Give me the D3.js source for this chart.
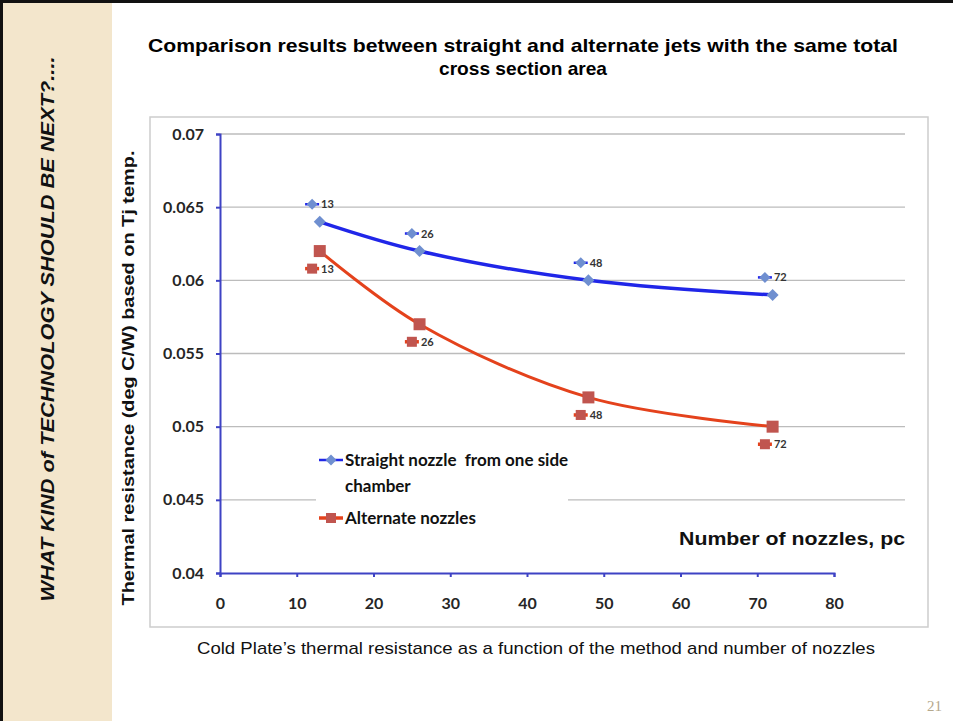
<!DOCTYPE html>
<meta charset="utf-8">
<style>
body { margin: 0; background: #fff; }
svg { display: block; }
.tick text { font-family: Lato, "Open Sans", sans-serif; font-weight: 700; font-size: 16px; fill: #262626; }
</style>
<body>
<script src="https://d3js.org/d3.v7.min.js"></script>
<script>

// Data
var nozzles = [13, 26, 48, 72];
var straightVals = [0.064, 0.062, 0.060, 0.059];
var alternateVals = [0.062, 0.057, 0.052, 0.050];

// the small labelled keys sitting next to each curve
var straightKeyX = [12, 25, 47, 71];
var straightKeyY = [0.0652, 0.0632, 0.0612, 0.0602];
var alternateKeyX = [12, 25, 47, 71];
var alternateKeyY = [0.0608, 0.0558, 0.0508, 0.0488];
var keyLabels = ["13", "26", "48", "72"];

var xTicks = [0, 10, 20, 30, 40, 50, 60, 70, 80];
var yTicks = [0.04, 0.045, 0.05, 0.055, 0.06, 0.065, 0.07];
var yTickLabels = ["0.04", "0.045", "0.05", "0.055", "0.06", "0.065", "0.07"];

var W = 953, H = 721;
var blue = "#2026e8", blueMark = "#6f8fd0";
var red = "#e4421c", redMark = "#c0554f";
var axisColor = "#3e42c4";

var svg = d3.select("body").append("svg")
    .attr("width", W)
    .attr("height", H);

// squeeze a text element to a given width (the slide font is a condensed one)
function fit(sel, w) {
  sel.attr("textLength", w).attr("lengthAdjust", "spacingAndGlyphs");
}

// slide side strip + borders
svg.append("rect").attr("x", 0).attr("y", 0).attr("width", 112).attr("height", H)
    .attr("fill", "#f3e6cc");
svg.append("rect").attr("x", 0).attr("y", 0).attr("width", 3).attr("height", H).attr("fill", "#111");
svg.append("rect").attr("x", 0).attr("y", 0).attr("width", W).attr("height", 3).attr("fill", "#111");

svg.append("text")
    .attr("transform", "translate(54,329) rotate(-90)")
    .attr("text-anchor", "middle")
    .style("font-family", "Liberation Sans, Arial, sans-serif")
    .style("font-weight", "bold")
    .style("font-style", "italic")
    .style("font-size", "19px")
    .attr("fill", "#111")
    .text("WHAT KIND of TECHNOLOGY SHOULD BE NEXT?....")
    .call(fit, 545);

// titles
var titleFont = "Liberation Sans, Arial, sans-serif";
svg.append("text")
    .attr("x", 523).attr("y", 52)
    .attr("text-anchor", "middle")
    .style("font-family", titleFont).style("font-weight", "bold").style("font-size", "19px")
    .text("Comparison results between straight and alternate jets with the same total")
    .call(fit, 750);
svg.append("text")
    .attr("x", 523).attr("y", 75)
    .attr("text-anchor", "middle")
    .style("font-family", titleFont).style("font-weight", "bold").style("font-size", "19px")
    .text("cross section area")
    .call(fit, 168);

// caption and page number
svg.append("text")
    .attr("x", 536).attr("y", 654)
    .attr("text-anchor", "middle")
    .style("font-family", titleFont).style("font-size", "17px")
    .attr("fill", "#111")
    .text("Cold Plate\u2019s thermal resistance as a function of the method and number of nozzles")
    .call(fit, 678);
svg.append("text")
    .attr("x", 942).attr("y", 711)
    .attr("text-anchor", "end")
    .style("font-family", "Liberation Serif, serif").style("font-size", "15px")
    .attr("fill", "#b5a88c")
    .text("21");

// chart frame
svg.append("rect")
    .attr("x", 150).attr("y", 117).attr("width", 778).attr("height", 510)
    .attr("fill", "#fff").attr("stroke", "#cdcdcd").attr("stroke-width", 1.5);

// scales
var x = d3.scaleLinear().domain([0, 80]).range([220, 834]);
var y = d3.scaleLinear().domain([0.04, 0.07]).range([573, 134]);

// gridlines
svg.append("g").selectAll("line")
    .data(yTicks.slice(1))
  .enter().append("line")
    .attr("x1", x(0)).attr("x2", 905)
    .attr("y1", function(d) { return y(d); })
    .attr("y2", function(d) { return y(d); })
    .attr("stroke", "#bcbcbc").attr("stroke-width", 1.3);

// axes
var yAxis = svg.append("g")
    .attr("transform", "translate(" + x(0) + ",0)")
    .call(d3.axisLeft(y).tickValues(yTicks).tickSize(4).tickPadding(12)
      .tickFormat(function(d, i) { return yTickLabels[i]; }));
var xAxis = svg.append("g")
    .attr("transform", "translate(0," + y(0.04) + ")")
    .call(d3.axisBottom(x).tickValues(xTicks).tickSize(4).tickPadding(21));
[xAxis, yAxis].forEach(function(a) {
  a.select(".domain").attr("stroke", axisColor).attr("stroke-width", 2);
  a.selectAll(".tick line").attr("stroke", axisColor).attr("stroke-width", 2);
});

// axis titles
svg.append("text")
    .attr("transform", "translate(134,378) rotate(-90)")
    .attr("text-anchor", "middle")
    .style("font-family", titleFont).style("font-weight", "bold").style("font-size", "17px")
    .attr("fill", "#111")
    .text("Thermal resistance (deg C/W) based on Tj temp.")
    .call(fit, 455);
svg.append("text")
    .attr("x", 905).attr("y", 545)
    .attr("text-anchor", "end")
    .style("font-family", titleFont).style("font-weight", "bold").style("font-size", "19px")
    .attr("fill", "#111")
    .text("Number of nozzles, pc")
    .call(fit, 226);

// legend (white box hides the gridline behind it)
svg.append("rect")
    .attr("x", 316).attr("y", 436).attr("width", 252).attr("height", 96)
    .attr("fill", "#fff");

function diamond(g, cx, cy, r, fill) {
  g.append("path")
    .attr("d", "M" + cx + "," + (cy - r) + "L" + (cx + r) + "," + cy + "L" + cx + "," + (cy + r) + "L" + (cx - r) + "," + cy + "Z")
    .attr("fill", fill);
}
function square(g, cx, cy, s, fill) {
  g.append("rect").attr("x", cx - s / 2).attr("y", cy - s / 2).attr("width", s).attr("height", s)
    .attr("fill", fill);
}
function key(g, cx, cy, len, kind) {
  g.append("line").attr("x1", cx - len / 2).attr("x2", cx + len / 2)
    .attr("y1", cy).attr("y2", cy)
    .attr("stroke", kind === "d" ? blue : red).attr("stroke-width", kind === "d" ? 2.5 : 3.5);
  if (kind === "d") diamond(g, cx, cy, 5.5, blueMark);
  else square(g, cx, cy, 10, redMark);
}

var legend = svg.append("g");
var legendFont = "Lato, 'Open Sans', sans-serif";
key(legend, 331, 460, 24, "d");
key(legend, 331, 518, 24, "s");
legend.append("text").attr("x", 345).attr("y", 466)
    .style("font-family", legendFont).style("font-weight", "bold").style("font-size", "17px")
    .style("white-space", "pre").attr("fill", "#111")
    .text("Straight nozzle  from one side");
legend.append("text").attr("x", 345).attr("y", 492)
    .style("font-family", legendFont).style("font-weight", "bold").style("font-size", "17px")
    .attr("fill", "#111")
    .text("chamber");
legend.append("text").attr("x", 345).attr("y", 524)
    .style("font-family", legendFont).style("font-weight", "bold").style("font-size", "17px")
    .attr("fill", "#111")
    .text("Alternate nozzles");

// curves
var line = d3.line()
    .x(function(d) { return x(d[0]); })
    .y(function(d) { return y(d[1]); })
    .curve(d3.curveCatmullRom.alpha(0.5));

var straight = nozzles.map(function(n, i) { return [n, straightVals[i]]; });
var alternate = nozzles.map(function(n, i) { return [n, alternateVals[i]]; });

svg.append("path").datum(straight)
    .attr("d", line).attr("fill", "none")
    .attr("stroke", blue).attr("stroke-width", 3.5);
svg.append("path").datum(alternate)
    .attr("d", line).attr("fill", "none")
    .attr("stroke", red).attr("stroke-width", 3);

var marks = svg.append("g");
straight.forEach(function(d) { diamond(marks, x(d[0]), y(d[1]), 6, blueMark); });
alternate.forEach(function(d) { square(marks, x(d[0]), y(d[1]), 12, redMark); });

// labelled keys next to the curves
var keys = svg.append("g");
function labelKeys(xs, ys, kind) {
  xs.forEach(function(v, i) {
    var cx = x(v), cy = y(ys[i]);
    key(keys, cx, cy, 14, kind);
    keys.append("text")
      .attr("x", cx + 9).attr("y", cy + 4)
      .style("font-family", legendFont).style("font-weight", "bold").style("font-size", "11px")
      .attr("fill", "#333")
      .text(keyLabels[i]);
  });
}
labelKeys(straightKeyX, straightKeyY, "d");
labelKeys(alternateKeyX, alternateKeyY, "s");

</script>
</body>
